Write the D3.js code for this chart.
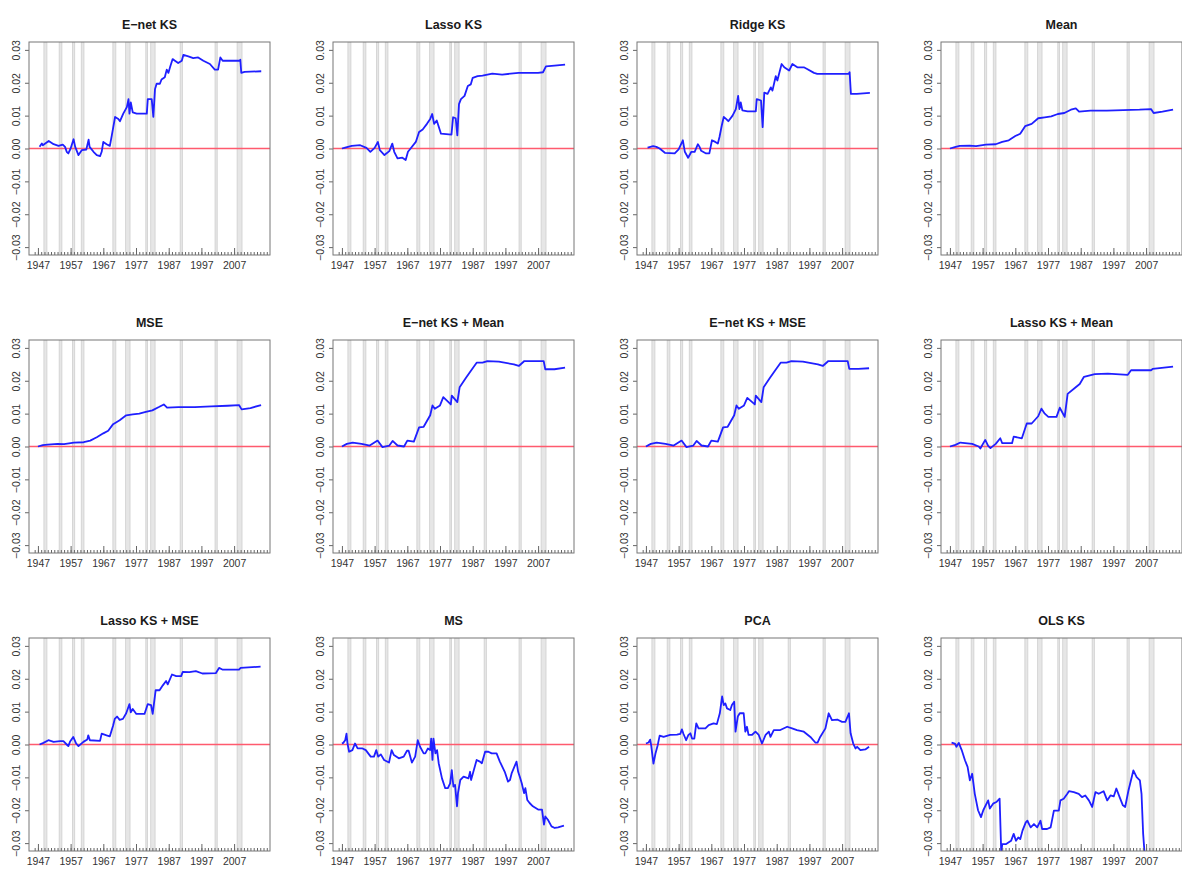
<!DOCTYPE html>
<html>
<head>
  <meta charset="utf-8">
  <title>Cumulative differences</title>
  <style>
    body { margin: 0; background: #fff; }
    svg { display: block; font-family: "Liberation Sans", Arial, sans-serif; }
    .title { font-size: 12.5px; font-weight: bold; fill: #1a1a1a; text-anchor: middle; }
    .axis text { font-family: "Liberation Sans Narrow", "Liberation Sans", Arial, sans-serif; font-size: 10.5px; fill: #333; }
    .axis line { stroke: #666; }
    .box { fill: none; stroke: #777; stroke-width: 1px; }
    .band { fill: #e6e6e6; stroke: #cfcfcf; stroke-width: 0.8px; }
    .zero { stroke: #ff5a6e; stroke-width: 1.3px; }
    .series { fill: none; stroke: #1f1fff; stroke-width: 1.8px; stroke-linejoin: round; }
  </style>
</head>
<body>
<div id="chart"></div>
<script src="https://d3js.org/d3.v7.min.js"></script>
<script>
  // panel titles, in reading order
  const titles = ["E−net KS", "Lasso KS", "Ridge KS", "Mean",
                  "MSE", "E−net KS + Mean", "E−net KS + MSE", "Lasso KS + Mean",
                  "Lasso KS + MSE", "MS", "PCA", "OLS KS"];

  const yTicks = [-0.03, -0.02, -0.01, 0, 0.01, 0.02, 0.03];
  const xTicks = [1947, 1957, 1967, 1977, 1987, 1997, 2007];
  const dataStart = 1947, dataEnd = 2015.25;

  // NBER recessions (peak, trough)
  const recessions = [[1948.83, 1949.75], [1953.5, 1954.33], [1957.58, 1958.25], [1960.25, 1961.08],
                      [1969.92, 1970.83], [1973.83, 1975.17], [1980.0, 1980.5], [1981.5, 1982.83],
                      [1990.5, 1991.17], [2001.17, 2001.83], [2007.92, 2009.42]];

  // series: [year, cumulative difference]
  const enetKS = [[1947.5,0.0005],[1948.2,0.0015],[1948.5,0.001],[1950.3,0.0023],[1951.8,0.0013],[1953.3,0.0008],
    [1954.6,0.0012],[1955.3,0.0005],[1955.8,-0.001],[1956.3,-0.0015],[1957,0],[1957.9,0.0028],[1958.4,0.0005],
    [1959.4,-0.002],[1960.4,-0.0005],[1961.8,-0.0003],[1962.5,0.0027],[1962.8,0.0005],[1964,-0.001],[1965,-0.002],
    [1966,-0.0023],[1966.5,-0.001],[1967,0.002],[1968,0.0013],[1969,0.0008],[1969.6,0.004],[1970.6,0.0096],
    [1971.6,0.009],[1972.1,0.0083],[1973.1,0.0106],[1974.2,0.0126],[1974.7,0.015],[1975,0.0106],[1975.4,0.014],
    [1976,0.011],[1977.2,0.0106],[1980.3,0.0106],[1980.6,0.015],[1981.8,0.015],[1982.3,0.0096],[1982.8,0.018],
    [1983.3,0.0197],[1984.3,0.0197],[1984.8,0.021],[1985.8,0.0217],[1986.4,0.024],[1986.9,0.023],[1987.4,0.0247],
    [1988.2,0.0272],[1988.9,0.0267],[1989.9,0.026],[1991,0.0267],[1991.5,0.0285],[1993,0.028],[1994.5,0.0275],
    [1996,0.0277],[1997.6,0.0267],[1999.6,0.0257],[2001.1,0.024],[2002.1,0.024],[2002.8,0.0277],[2003.5,0.0267],
    [2008.7,0.0267],[2008.9,0.027],[2009.2,0.023],[2010.2,0.0233],[2015.3,0.0235]];

  const lassoKS = [[1947,0],[1948,0.0003],[1950,0.0008],[1952.6,0.001],[1954.5,0.0002],[1955.7,-0.001],[1957,0.0002],
    [1958,0.002],[1958.6,-0.0005],[1960,-0.002],[1961.5,-0.0008],[1962.4,0.0015],[1963,-0.001],[1964,-0.003],
    [1965.5,-0.0028],[1966.5,-0.0035],[1967.2,-0.001],[1968,0],[1969.6,0.002],[1970.6,0.005],[1971.7,0.0058],
    [1973,0.0075],[1974,0.009],[1974.6,0.0105],[1975.2,0.0075],[1976,0.0085],[1977.3,0.0045],[1980.5,0.0042],
    [1981,0.0095],[1981.8,0.0092],[1982.3,0.004],[1982.8,0.0135],[1983.4,0.015],[1984.5,0.016],[1985.5,0.019],
    [1986.4,0.0195],[1987,0.0215],[1988.5,0.022],[1990,0.0222],[1993,0.0228],[1996,0.0225],[2001,0.023],
    [2007,0.023],[2008.5,0.0232],[2009.4,0.025],[2012,0.0252],[2015.25,0.0255]];

  const ridgeKS = [[1947.5,0.0003],[1949.2,0.0007],[1950.2,0.0005],[1951.2,0],[1952.8,-0.0013],[1955.8,-0.0015],
    [1957,-0.0003],[1958.3,0.0025],[1958.9,-0.001],[1959.9,-0.0028],[1960.9,-0.001],[1961.9,-0.001],[1962.9,0.0013],
    [1963.4,0.0005],[1963.9,-0.0007],[1965.4,-0.0015],[1966.4,-0.0015],[1967.2,0.0025],[1968.2,0.002],[1969,0.0015],
    [1969.5,0.0035],[1970.2,0.007],[1970.8,0.0096],[1971.5,0.009],[1972.2,0.0083],[1973.5,0.01],[1974.5,0.012],
    [1975.2,0.016],[1975.6,0.012],[1976,0.014],[1976.5,0.0116],[1978.1,0.0113],[1980.6,0.0113],[1980.9,0.015],
    [1982.2,0.0146],[1982.7,0.0065],[1983.2,0.017],[1984.2,0.0166],[1985.2,0.0186],[1985.7,0.0176],[1986.7,0.022],
    [1987.2,0.0207],[1988.5,0.0257],[1989.3,0.0247],[1990.8,0.0237],[1991.8,0.0257],[1993.3,0.0247],[1995.3,0.0247],
    [1996.3,0.0242],[1998.4,0.023],[1999.4,0.0227],[2009,0.0227],[2009.3,0.0232],[2009.7,0.0166],[2011.5,0.0166],
    [2015.5,0.0169]];

  const mean = [[1947,0],[1948.5,0.0004],[1950,0.0008],[1953,0.0009],[1955,0.0007],[1958,0.0012],[1961,0.0013],
    [1963,0.002],[1965,0.0025],[1967,0.0038],[1968.5,0.0045],[1970,0.0068],[1972,0.0075],[1974,0.0092],
    [1976,0.0095],[1978,0.0098],[1980,0.0105],[1982,0.0108],[1984,0.0118],[1985.5,0.0122],[1986.5,0.0112],
    [1990,0.0115],[1995,0.0115],[2000,0.0117],[2005,0.0118],[2008.5,0.012],[2009.3,0.0108],[2012,0.0112],
    [2015.25,0.0118]];

  const mse = [[1947,0],[1948.5,0.0004],[1950,0.0006],[1953,0.0008],[1955,0.0007],[1958,0.0012],[1961,0.0013],
    [1963,0.0018],[1965,0.0028],[1967,0.004],[1968.5,0.0048],[1970,0.0068],[1972,0.008],[1974,0.0095],
    [1976,0.0098],[1978,0.01],[1980,0.0105],[1982,0.011],[1984,0.012],[1985.5,0.0128],[1986.5,0.0118],
    [1990,0.012],[1995,0.012],[2000,0.0122],[2005,0.0124],[2008.5,0.0126],[2009.3,0.0113],[2012,0.0117],
    [2015.25,0.0126]];

  const enetKSMean = [[1947,0],[1948.5,0.0008],[1950.3,0.0012],[1953,0.0008],[1955.5,0.0003],[1957.9,0.0018],
    [1959.4,-0.0002],[1961.5,0.0003],[1962.5,0.0017],[1964,0.0003],[1966,0],[1967,0.0018],[1969,0.0015],
    [1970.6,0.0058],[1972,0.006],[1974,0.0095],[1974.7,0.0125],[1975.4,0.0115],[1977,0.0125],[1978,0.015],
    [1980.3,0.0128],[1980.6,0.0155],[1982.3,0.0135],[1983,0.018],[1985,0.021],[1986.4,0.023],[1988.2,0.0255],
    [1990,0.0255],[1991.5,0.026],[1995,0.0258],[1999.6,0.025],[2001.1,0.0245],[2002.8,0.026],[2008.7,0.026],
    [2009.2,0.0235],[2012,0.0235],[2015.25,0.024]];

  const enetKSMSE = [[1947,0],[1948.5,0.0008],[1950.3,0.0012],[1953,0.0008],[1955.5,0.0003],[1957.9,0.0018],
    [1959.4,-0.0002],[1961.5,0.0003],[1962.5,0.0017],[1964,0.0003],[1966,0],[1967,0.0018],[1969,0.0015],
    [1970.6,0.0058],[1972,0.006],[1974,0.0095],[1974.7,0.0125],[1975.4,0.0115],[1977,0.0125],[1978,0.0148],
    [1980.3,0.0128],[1980.6,0.0155],[1982.3,0.0135],[1983,0.018],[1985,0.021],[1986.4,0.023],[1988.2,0.0255],
    [1990,0.0255],[1991.5,0.026],[1995,0.0258],[1999.6,0.025],[2001.1,0.0245],[2002.8,0.026],[2008.7,0.026],
    [2009.2,0.0236],[2012,0.0236],[2015.25,0.0238]];

  const lassoKSMean = [[1947,0],[1948.7,0.0005],[1950.2,0.0012],[1953.8,0.0008],[1955.8,0],[1956.3,-0.0006],
    [1957.8,0.002],[1958.7,0.0002],[1959.4,-0.0005],[1961,0.0008],[1962.4,0.0025],[1963,0.001],[1966,0.001],
    [1966.5,0.003],[1969,0.0025],[1970.5,0.007],[1972,0.007],[1974,0.0092],[1975,0.0115],[1976,0.01],
    [1977.1,0.009],[1979.6,0.009],[1980.6,0.0118],[1982.1,0.009],[1983,0.016],[1985.2,0.0178],[1986.7,0.019],
    [1988,0.0212],[1991.3,0.022],[1995.3,0.0222],[2001.4,0.0218],[2002.4,0.0232],[2008.5,0.0232],[2009,0.0236],
    [2015.25,0.0243]];

  const lassoKSMSE = [[1947.5,0],[1948.7,0.0005],[1950.2,0.0013],[1951.8,0.0008],[1953.8,0.001],[1954.8,0.001],
    [1955.8,0],[1956.3,-0.0005],[1956.8,0.0008],[1957.8,0.0023],[1958.7,0.0003],[1959.4,-0.0005],[1960.9,0.0008],
    [1962.1,0.0015],[1962.4,0.0028],[1962.9,0.0013],[1966,0.0011],[1966.5,0.0033],[1968,0.0028],[1969,0.0025],
    [1970,0.0058],[1970.5,0.0078],[1971.2,0.0085],[1972,0.0075],[1973,0.0078],[1974,0.0095],[1975,0.0123],
    [1975.4,0.0098],[1976,0.0108],[1977.1,0.0093],[1979.6,0.0093],[1980.6,0.0123],[1981.6,0.012],[1982.1,0.0093],
    [1983,0.0165],[1984.2,0.0165],[1985.2,0.018],[1986.2,0.0193],[1986.7,0.0183],[1988,0.0213],[1989.3,0.0208],
    [1990.8,0.0208],[1991.3,0.0221],[1993.3,0.022],[1995.3,0.0223],[1997.3,0.0216],[2001.4,0.0217],[2002.4,0.0233],
    [2003.4,0.0228],[2008.5,0.0228],[2009,0.0233],[2015.1,0.0237]];

  const ms = [[1947,0.0003],[1947.4,0.0005],[1948,0.0013],[1948.4,0.0033],[1948.7,0.0003],[1949.2,-0.0022],
    [1950.2,-0.0017],[1951,0.0003],[1951.8,-0.0012],[1953.3,-0.0012],[1954.3,-0.0017],[1955.8,-0.0037],
    [1956.8,-0.0037],[1957.5,-0.0017],[1958.1,-0.0037],[1958.9,-0.003],[1959.9,-0.0047],[1961.4,-0.0055],
    [1962.2,-0.0017],[1962.9,-0.0032],[1964.4,-0.0042],[1965.9,-0.0037],[1966.9,-0.0019],[1967.4,-0.0019],
    [1968.4,-0.0055],[1969.4,-0.0037],[1970.2,0.0013],[1970.9,-0.0007],[1972,-0.0027],[1972.5,-0.0027],
    [1973.3,-0.0012],[1974,-0.0017],[1974.3,0.0018],[1974.7,-0.0047],[1975,0.0018],[1975.6,-0.0027],
    [1976.1,-0.0017],[1976.6,-0.0057],[1977.6,-0.0103],[1978.6,-0.0133],[1979.4,-0.0133],[1980.1,-0.0118],
    [1980.6,-0.0078],[1981.1,-0.0128],[1981.6,-0.0123],[1982.2,-0.0188],[1982.5,-0.0148],[1983.2,-0.0108],
    [1984.2,-0.0098],[1985.7,-0.0103],[1986.2,-0.0083],[1986.5,-0.0108],[1987.2,-0.0083],[1988.2,-0.0047],
    [1989.2,-0.0052],[1989.8,-0.0057],[1990.8,-0.0022],[1991.8,-0.0022],[1992.8,-0.0027],[1994.3,-0.0027],
    [1995.3,-0.0052],[1996.8,-0.0083],[1997.8,-0.0113],[1998.4,-0.0108],[1998.9,-0.0088],[2000.4,-0.0052],
    [2000.9,-0.0083],[2001.4,-0.0098],[2002,-0.0118],[2002.7,-0.0148],[2003.1,-0.0133],[2003.7,-0.0169],
    [2004.4,-0.0178],[2005.4,-0.0188],[2007,-0.0198],[2008.2,-0.0198],[2008.8,-0.0244],[2009.2,-0.0219],
    [2010,-0.0229],[2011.1,-0.0249],[2012.1,-0.0254],[2013.1,-0.0252],[2014.9,-0.0247]];

  const pca = [[1947,0.0003],[1947.8,0.0006],[1948.3,0.0015],[1948.6,-0.0002],[1949.3,-0.0058],[1949.9,-0.0028],
    [1950.6,-0.0002],[1951.2,0.0027],[1952.4,0.0023],[1954.4,0.0029],[1956.5,0.003],[1957.5,0.0032],[1958,0.0046],
    [1958.5,0.0032],[1959.3,0.0013],[1960,0.0029],[1960.6,0.0034],[1961.1,0.0018],[1961.8,0.0018],[1962.4,0.0064],
    [1963.1,0.0049],[1965.2,0.0049],[1966.2,0.0059],[1967.7,0.0064],[1968.7,0.0062],[1969.6,0.0095],[1970.3,0.0146],
    [1970.8,0.012],[1971.3,0.0125],[1971.8,0.011],[1972.8,0.0105],[1973.3,0.012],[1974,0.013],[1974.4,0.0039],
    [1975.1,0.0085],[1975.7,0.0095],[1976.9,0.0095],[1977.4,0.0039],[1977.9,0.0054],[1978.4,0.0029],[1979.4,0.0029],
    [1980.5,0.0039],[1981.5,0.0029],[1982.5,0.0003],[1983.6,0.0029],[1984.6,0.0039],[1985.1,0.0023],[1986.1,0.0044],
    [1988.1,0.0044],[1990.2,0.0054],[1991.7,0.0049],[1993.2,0.0044],[1995.3,0.0039],[1997.3,0.0023],[1998.8,0.0006],
    [1999.5,0.0006],[2000.3,0.0023],[2001.9,0.0049],[2002.9,0.0095],[2003.9,0.0074],[2005.5,0.0076],[2007,0.0069],
    [2008,0.0069],[2009.1,0.0095],[2009.6,0.0034],[2010.4,0.0003],[2011.1,-0.0012],[2011.6,-0.0007],
    [2012.6,-0.0017],[2014.1,-0.0015],[2015.25,-0.0007]];

  const olsKS = [[1947.5,0.0006],[1948.5,0.0003],[1949,-0.0007],[1949.7,0.0005],[1950.6,-0.0017],[1951.6,-0.0048],
    [1952.4,-0.0068],[1953.1,-0.0109],[1953.8,-0.0089],[1954.6,-0.015],[1955.6,-0.02],[1956.5,-0.0221],
    [1957.2,-0.02],[1958.2,-0.018],[1958.7,-0.017],[1959.2,-0.0195],[1960.2,-0.018],[1961.2,-0.0175],
    [1962.2,-0.0165],[1962.7,-0.033],[1963,-0.0303],[1964.2,-0.0303],[1965.7,-0.0293],[1966.5,-0.0272],
    [1967.2,-0.0293],[1967.9,-0.0283],[1968.5,-0.0288],[1969.2,-0.0262],[1970.2,-0.0237],[1970.7,-0.0232],
    [1971.2,-0.0242],[1971.7,-0.0252],[1972.7,-0.0242],[1973.7,-0.0252],[1974.7,-0.0232],[1975.2,-0.0257],
    [1976.7,-0.0257],[1977.8,-0.0252],[1978.8,-0.0201],[1980.3,-0.0201],[1980.8,-0.017],[1981.8,-0.0165],
    [1982.9,-0.015],[1983.4,-0.0142],[1984.9,-0.0145],[1986.4,-0.015],[1987.4,-0.016],[1988.4,-0.0155],
    [1989.5,-0.017],[1990.5,-0.019],[1991.5,-0.0145],[1992.5,-0.015],[1994,-0.0142],[1995.1,-0.017],
    [1996.1,-0.0155],[1997.1,-0.0158],[1997.9,-0.0134],[1998.9,-0.016],[1999.9,-0.0185],[2000.6,-0.019],
    [2001.6,-0.014],[2003.1,-0.0079],[2004.1,-0.0099],[2005.1,-0.0109],[2005.6,-0.015],[2006.1,-0.0272],
    [2006.6,-0.034],[2007,-0.045]];

  const seriesList = [enetKS, lassoKS, ridgeKS, mean, mse, enetKSMean, enetKSMSE, lassoKSMean,
                      lassoKSMSE, ms, pca, olsKS];

  const width = 1182, height = 869;
  const boxW = 241, boxH = 213;
  const colX = [29, 333, 637, 941];
  const rowY = [42, 340, 638];

  const svg = d3.select("#chart").append("svg")
    .attr("width", width)
    .attr("height", height);

  // R style 4% padding on both axes
  const xPad = (dataEnd - dataStart) * 0.04;
  const x = d3.scaleLinear().domain([dataStart - xPad, dataEnd + xPad]).range([0, boxW]);
  const y = d3.scaleLinear().domain([-0.03 - 0.0024, 0.03 + 0.0024]).range([boxH, 0]);

  const line = d3.line()
    .x(d => x(d[0]))
    .y(d => y(d[1]));

  const minorYears = d3.range(1946, 2018);

  titles.forEach((title, i) => {
    const g = svg.append("g")
      .attr("transform", `translate(${colX[i % 4]},${rowY[Math.floor(i / 4)]})`);

    g.append("clipPath").attr("id", "clip" + i)
      .append("rect").attr("width", boxW).attr("height", boxH);

    const inner = g.append("g").attr("clip-path", `url(#clip${i})`);

    inner.selectAll(".band")
      .data(recessions)
      .enter()
      .append("rect")
      .attr("class", "band")
      .attr("x", d => x(d[0]))
      .attr("width", d => Math.max(1.5, x(d[1]) - x(d[0])))
      .attr("y", 0)
      .attr("height", boxH);

    inner.append("line")
      .attr("class", "zero")
      .attr("x1", 0).attr("x2", boxW)
      .attr("y1", y(0)).attr("y2", y(0));

    inner.append("path")
      .datum(seriesList[i])
      .attr("class", "series")
      .attr("d", line);

    // minor yearly ticks, pointing in
    const minor = g.append("g")
      .attr("class", "axis")
      .attr("transform", `translate(0,${boxH})`)
      .call(d3.axisBottom(x).tickValues(minorYears).tickSize(-3).tickFormat(""));
    minor.select(".domain").remove();

    const xa = g.append("g")
      .attr("class", "axis")
      .attr("transform", `translate(0,${boxH})`)
      .call(d3.axisBottom(x).tickValues(xTicks).tickSize(-7).tickPadding(7).tickFormat(d3.format("d")));
    xa.select(".domain").remove();

    const ya = g.append("g")
      .attr("class", "axis")
      .call(d3.axisLeft(y).tickValues(yTicks).tickSize(4).tickFormat(d3.format(".2f")));
    ya.select(".domain").remove();
    ya.selectAll("text")
      .attr("transform", "rotate(-90)")
      .attr("x", 0)
      .attr("y", -9)
      .attr("dy", 0)
      .attr("text-anchor", "middle");

    g.append("rect")
      .attr("class", "box")
      .attr("width", boxW)
      .attr("height", boxH);

    g.append("text")
      .attr("class", "title")
      .attr("x", boxW / 2)
      .attr("y", -13)
      .text(title);
  });
</script>
</body>
</html>
